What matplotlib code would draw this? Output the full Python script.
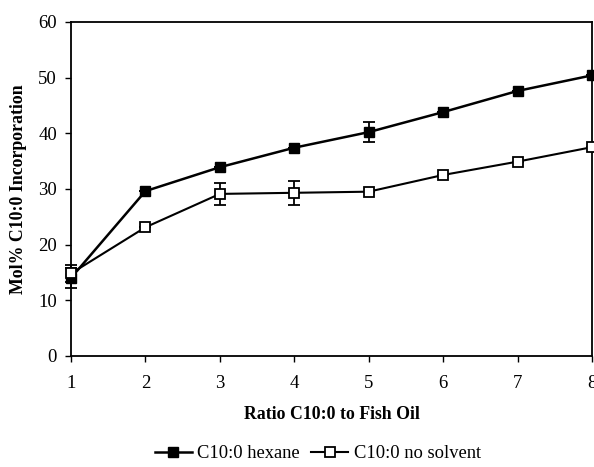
import matplotlib
matplotlib.use('Agg')
import matplotlib.pyplot as plt
from matplotlib.lines import Line2D

plt.rcParams['font.family'] = ['Liberation Serif', 'DejaVu Serif']

# ratio C10:0 to fish oil
ratio = [1, 2, 3, 4, 5, 6, 7, 8]
# C10:0 hexane
hexane = [14.0, 29.6, 33.9, 37.4, 40.2, 43.8, 47.6, 50.4]
hexane_err = [1.8, 0, 0, 0, 1.8, 0, 0, 0]
# C10:0 no solvent
no_solvent = [14.8, 23.1, 29.1, 29.3, 29.5, 32.5, 34.9, 37.5]
no_solvent_err = [1.5, 0, 2.0, 2.2, 0, 0, 0, 0]


def main():
    fig = plt.figure(figsize=(5.94, 4.67), dpi=100)
    ax = fig.add_axes([0.1195, 0.238, 0.877, 0.715])

    ax.errorbar(ratio, hexane, yerr=hexane_err, color='black', lw=1.8,
                marker='s', ms=7.5, mfc='black', mec='black',
                capsize=4, elinewidth=1.3, capthick=1.3,
                clip_on=False, zorder=3)
    ax.errorbar(ratio, no_solvent, yerr=no_solvent_err, color='black', lw=1.5,
                marker='s', ms=7.5, mfc='white', mec='black', mew=1.3,
                capsize=4, elinewidth=1.3, capthick=1.3,
                clip_on=False, zorder=4)

    ax.set_xlim(1, 8)
    ax.set_ylim(0, 60)
    ax.set_xticks(ratio)
    ax.set_yticks(range(0, 61, 10))
    ax.tick_params(direction='out', length=4, width=1, labelsize=13.5)
    ax.tick_params(axis='x', pad=10)
    ax.tick_params(axis='y', pad=6)
    for s in ax.spines.values():
        s.set_linewidth(1.3)

    ax.set_xlabel('Ratio C10:0 to Fish Oil', fontsize=12.8, fontweight='bold', labelpad=10)
    ax.set_ylabel('Mol% C10:0 Incorporation', fontsize=12.8, fontweight='bold', labelpad=8)

    handles = [
        Line2D([], [], color='black', lw=1.8, marker='s', ms=7.5, mfc='black'),
        Line2D([], [], color='black', lw=1.5, marker='s', ms=7.5, mfc='white', mew=1.3),
    ]
    fig.legend(handles, ['C10:0 hexane', 'C10:0 no solvent'],
               loc='lower center', bbox_to_anchor=(0.535, -0.025), ncol=2,
               frameon=False, fontsize=13.3, handlelength=2.0, columnspacing=0.6,
               handletextpad=0.3)

    fig.savefig('out.png', dpi=100)


if __name__ == '__main__':
    main()
